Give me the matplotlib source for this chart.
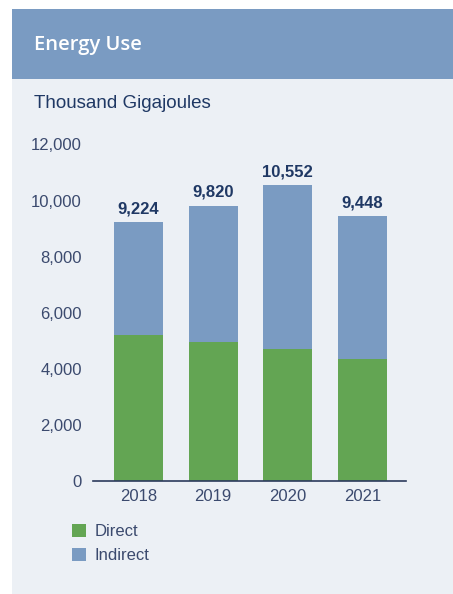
import matplotlib
matplotlib.use('Agg')
import matplotlib.pyplot as plt
from matplotlib.patches import Rectangle
from matplotlib import font_manager

# data (thousand GJ)
years = ['2018', '2019', '2020', '2021']
direct = [5200, 4950, 4700, 4350]
totals = [9224, 9820, 10552, 9448]
indirect = [t - d for t, d in zip(totals, direct)]
yticks = [0, 2000, 4000, 6000, 8000, 10000, 12000]

GREEN = '#63a553'
BLUE = '#7a9bc2'
BG = '#ecf0f5'
NAVY = '#1f3864'
TICK = '#3b4a6e'

installed = {f.name for f in font_manager.fontManager.ttflist}
narrow = 'Liberation Sans Narrow' if 'Liberation Sans Narrow' in installed else 'Liberation Sans'
plt.rcParams['font.family'] = [narrow, 'DejaVu Sans']

W, H = 453, 594
fig = plt.figure(figsize=(W / 100, H / 100), dpi=100)
fig.patch.set_facecolor('white')

# pixel box -> figure fraction rect
def px(x0, y0, x1, y1):
    return (x0 / W, 1 - y1 / H, (x1 - x0) / W, (y1 - y0) / H)

bx, by, bw, bh = px(12, 9, 453, 594)
fig.patches.append(Rectangle((bx, by), bw, bh, transform=fig.transFigure,
                             facecolor=BG, edgecolor='none', zorder=-2))
hx, hy, hw, hh = px(12, 9, 453, 79)
fig.patches.append(Rectangle((hx, hy), hw, hh, transform=fig.transFigure,
                             facecolor=BLUE, edgecolor='none', zorder=-1))

fig.text(34 / W, 1 - 45 / H, 'Energy Use', color='white', fontsize=14.5,
         fontweight='semibold', family=['Open Sans', 'DejaVu Sans'], va='center', ha='left')
fig.text(34 / W, 1 - 103 / H, 'Thousand Gigajoules', color=NAVY, fontsize=13.5,
         va='center', ha='left')

ax = fig.add_axes(px(93, 144.4, 406, 481))
ax.set_zorder(5)
ax.set_facecolor('none')
x = range(len(years))
ax.bar(x, direct, width=0.656, color=GREEN, label='Direct', zorder=2)
ax.bar(x, indirect, bottom=direct, width=0.656, color=BLUE, label='Indirect', zorder=2)

for i, t in enumerate(totals):
    ax.annotate(f'{t:,}', (i, t), xytext=(0, 4), textcoords='offset points',
                ha='center', va='bottom', fontsize=12, fontweight='bold', color=NAVY)

ax.set_xlim(-0.609, 3.582)
ax.set_ylim(0, 12000)
ax.set_yticks(yticks)
ax.set_yticklabels([f'{v:,}' for v in yticks])
ax.set_xticks(list(x))
ax.set_xticklabels(years)
ax.tick_params(axis='both', length=0, labelsize=12, labelcolor=TICK)
ax.tick_params(axis='y', pad=8)
ax.tick_params(axis='x', pad=6)
for s in ['top', 'right', 'left']:
    ax.spines[s].set_visible(False)
ax.spines['bottom'].set_color('#2b3a5c')
ax.spines['bottom'].set_linewidth(1.2)
ax.spines['bottom'].set_zorder(3)

# legend
for i, (lab, col) in enumerate([('Direct', GREEN), ('Indirect', BLUE)]):
    y0 = 524 + i * 24
    lx, ly, lw, lh = px(72, y0, 86, y0 + 13)
    fig.patches.append(Rectangle((lx, ly), lw, lh, transform=fig.transFigure,
                                 facecolor=col, edgecolor='none', zorder=2))
    fig.text(95 / W, 1 - (y0 + 7) / H, lab, color=TICK, fontsize=12,
             va='center', ha='left')

fig.savefig('out.png', dpi=100, facecolor=fig.get_facecolor())
